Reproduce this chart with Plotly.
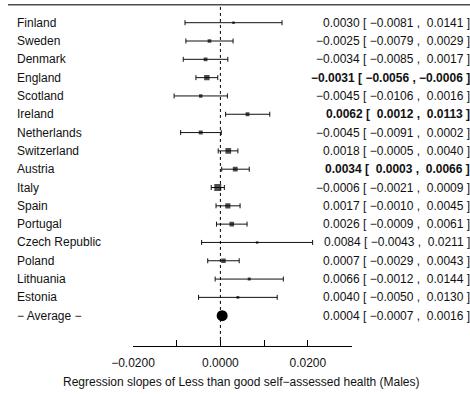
import plotly.graph_objects as go

# Per-country regression slopes with 95% confidence limits
countries = ["Finland", "Sweden", "Denmark", "England", "Scotland", "Ireland",
             "Netherlands", "Switzerland", "Austria", "Italy", "Spain", "Portugal",
             "Czech Republic", "Poland", "Lithuania", "Estonia"]
estimate = [0.0030, -0.0025, -0.0034, -0.0031, -0.0045, 0.0062, -0.0045, 0.0018,
            0.0034, -0.0006, 0.0017, 0.0026, 0.0084, 0.0007, 0.0066, 0.0040]
lower = [-0.0081, -0.0079, -0.0085, -0.0056, -0.0106, 0.0012, -0.0091, -0.0005,
         0.0003, -0.0021, -0.0010, -0.0009, -0.0043, -0.0029, -0.0012, -0.0050]
upper = [0.0141, 0.0029, 0.0017, -0.0006, 0.0016, 0.0113, 0.0002, 0.0040,
         0.0066, 0.0009, 0.0045, 0.0061, 0.0211, 0.0043, 0.0144, 0.0130]

# Pooled estimate
avg_label = "\u2212 Average \u2212"
avg_est, avg_lo, avg_hi = 0.0004, -0.0007, 0.0016

tick_vals = [-0.02, -0.01, 0.0, 0.01, 0.02, 0.03]
tick_text = ["\u22120.0200", "", "0.0000", "", "0.0200", ""]
x_title = "Regression slopes of Less than good self\u2212assessed health (Males)"

W, H = 470, 394
FONT = "Liberation Sans, Arial, sans-serif"
INK = "#111111"

rows = list(range(len(countries)))
avg_row = len(countries)


def fmt(v, pad=False):
    s = f"{v:.4f}".replace("-", "\u2212")
    if pad and v >= 0:
        s = "\u00a0" + s
    return s


def ci_text(e, lo, hi):
    return f"{fmt(e)} [ {fmt(lo, True)} , {fmt(hi, True)} ]"


# box size shrinks with the width of the interval (precision weighting)
sizes = [0.383 / (h - l) ** 0.5 for l, h in zip(lower, upper)]

fig = go.Figure()

fig.add_trace(go.Scatter(
    x=estimate, y=rows, mode="markers",
    marker=dict(symbol="square", size=sizes, color="black", line=dict(width=0)),
    error_x=dict(type="data", symmetric=False,
                 array=[h - e for h, e in zip(upper, estimate)],
                 arrayminus=[e - l for e, l in zip(estimate, lower)],
                 color=INK, thickness=1, width=2.5),
    showlegend=False, hoverinfo="skip",
))

fig.add_trace(go.Scatter(
    x=[avg_est], y=[avg_row], mode="markers",
    marker=dict(symbol="circle", size=11, color="black", line=dict(width=0)),
    showlegend=False, hoverinfo="skip",
))

# zero reference line
fig.add_shape(type="line", xref="x", yref="y", x0=0, x1=0, y0=-0.86, y1=17.33,
              line=dict(color="black", width=1, dash="dot"))
# rule across the top
fig.add_shape(type="line", xref="paper", yref="paper", x0=8 / W, x1=1.0,
              y0=1 - 4.7 / H, y1=1 - 4.7 / H, line=dict(color="#4d4d4d", width=1.5))

ann = []
all_labels = countries + [avg_label]
all_text = [ci_text(e, l, h) for e, l, h in zip(estimate, lower, upper)]
all_text.append(ci_text(avg_est, avg_lo, avg_hi))
for i, (lab, txt) in enumerate(zip(all_labels, all_text)):
    significant = i < len(countries) and (lower[i] > 0 or upper[i] < 0)
    ann.append(dict(x=15 / W, y=i, xref="paper", yref="y", text=lab,
                    xanchor="left", yanchor="middle", showarrow=False,
                    font=dict(family=FONT, size=12, color=INK)))
    ann.append(dict(x=1.0, y=i, xref="paper", yref="y",
                    text=f"<b>{txt}</b>" if significant else txt,
                    xanchor="right", yanchor="middle", showarrow=False, xshift=2,
                    font=dict(family=FONT, size=12, color=INK)))
ann.append(dict(x=242 / W, y=1 - 381.5 / H, xref="paper", yref="paper", text=x_title,
                xanchor="center", yanchor="middle", showarrow=False,
                font=dict(family=FONT, size=12, color=INK)))

row_px0, row_step, axis_px = 22.7, 18.3125, 346

fig.update_layout(
    width=W, height=H,
    margin=dict(l=0, r=0, t=0, b=0, pad=0, autoexpand=False),
    paper_bgcolor="white", plot_bgcolor="white",
    annotations=ann,
    xaxis=dict(domain=[133 / W, 351.5 / W], range=[-0.02, 0.03],
               automargin=False,
               showgrid=False, zeroline=False, showline=True,
               linecolor="black", linewidth=1,
               ticks="inside", ticklen=6, tickwidth=1, tickcolor="black",
               tickvals=tick_vals, ticktext=tick_text, ticklabelstandoff=6,
               tickfont=dict(family=FONT, size=12, color=INK)),
    yaxis=dict(domain=[(H - axis_px) / H, 1], automargin=False,
               range=[(axis_px - row_px0) / row_step, -row_px0 / row_step],
               visible=False, showgrid=False, zeroline=False),
)

fig.write_html("out.html")
